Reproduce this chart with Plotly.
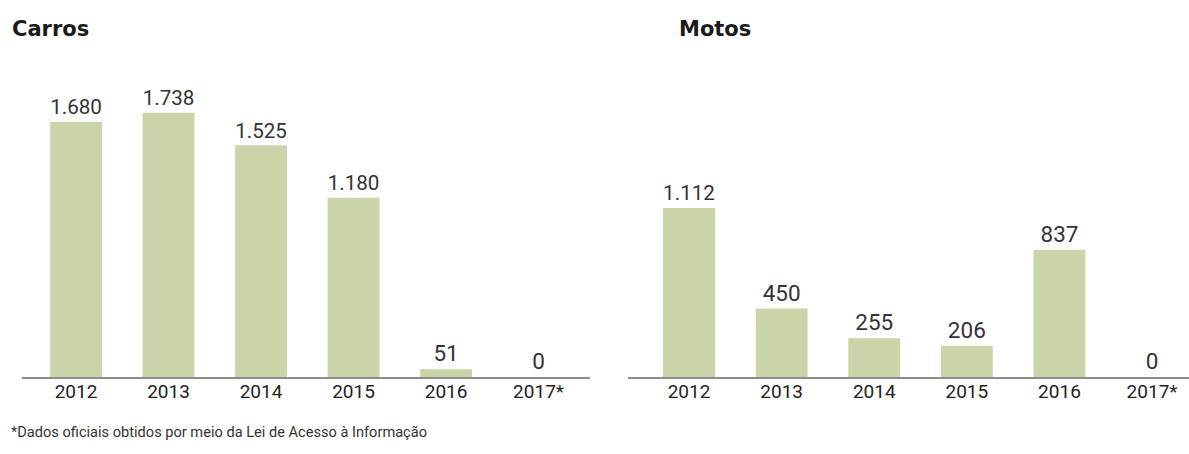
import plotly.graph_objects as go

years = ["2012", "2013", "2014", "2015", "2016", "2017*"]
carros = [1680, 1738, 1525, 1180, 51, 0]
motos = [1112, 450, 255, 206, 837, 0]
titles = ["Carros", "Motos"]
footnote = "*Dados oficiais obtidos por meio da Lei de Acesso à Informação"

W, H = 1189, 454
BAR = "#c9d4a9"
TXT = "#333333"

def px(x):
    return x / W

def py(y):
    return 1 - y / H

baseline = 377
top = 60
scale = 0.152
ymax = (baseline - top) / scale

fig = go.Figure()
for vals, xa, ya in [(carros, "x", "y"), (motos, "x2", "y2")]:
    fig.add_trace(go.Bar(
        x=years, y=vals, xaxis=xa, yaxis=ya,
        marker=dict(color=BAR, line=dict(width=0)),
        texttemplate="%{y:,}", textposition="outside",
        textfont=dict(family="Roboto", size=22.5, color=TXT),
        cliponaxis=False, hoverinfo="skip", showlegend=False,
    ))

xcommon = dict(type="category", showgrid=False, zeroline=False, showline=True,
               linecolor="#8c8c8c", linewidth=2, ticks="", fixedrange=True,
               ticklabelstandoff=-4,
               tickfont=dict(family="Roboto", size=19, color="#222222"))
ycommon = dict(range=[0, ymax], visible=False, fixedrange=True,
               domain=[py(baseline), py(top)])

fig.update_layout(
    width=W, height=H,
    margin=dict(l=0, r=0, t=0, b=0),
    paper_bgcolor="white", plot_bgcolor="white",
    separators=",.",
    bargap=0.44,
    xaxis=dict(domain=[px(22), px(590)], range=[-0.584, 5.556], anchor="y", **xcommon),
    xaxis2=dict(domain=[px(628), 1.0], range=[-0.659, 5.399], anchor="y2", **xcommon),
    yaxis=dict(anchor="x", **ycommon),
    yaxis2=dict(anchor="x2", **ycommon),
    annotations=[
        dict(text=titles[0], x=px(10), y=py(29), xref="paper", yref="paper",
             xanchor="left", yanchor="middle", showarrow=False,
             font=dict(family="DejaVu Sans", size=21, color="#1a1a1a", weight="bold")),
        dict(text=titles[1], x=px(677), y=py(29), xref="paper", yref="paper",
             xanchor="left", yanchor="middle", showarrow=False,
             font=dict(family="DejaVu Sans", size=21, color="#1a1a1a", weight="bold")),
        dict(text=footnote, x=px(9), y=py(432), xref="paper", yref="paper",
             xanchor="left", yanchor="middle", showarrow=False,
             font=dict(family="Roboto", size=14.6, color=TXT)),
    ],
)

fig.write_html("out.html", config={"displayModeBar": False},
               post_script="document.body.style.margin='0';document.body.style.overflow='hidden';")
